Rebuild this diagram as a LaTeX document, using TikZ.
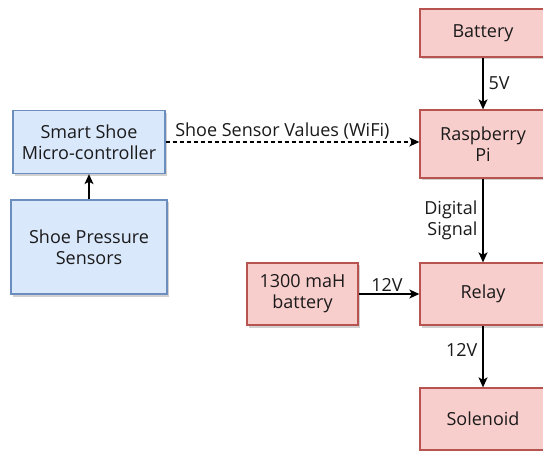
\documentclass[tikz,border=0pt]{standalone}
\usepackage{fontspec}
\setmainfont{Open Sans}
\usetikzlibrary{arrows.meta,shadows}
\definecolor{bluefill}{HTML}{DAE8FC}
\definecolor{bluedraw}{HTML}{6C8EBF}
\definecolor{redfill}{HTML}{F8CECC}
\definecolor{reddraw}{HTML}{B85450}
\definecolor{txt}{HTML}{1A1A1A}
\tikzset{
  box/.style={draw, line width=1.3bp, align=center, inner sep=2bp, text=txt,
    drop shadow={shadow xshift=2bp, shadow yshift=-2.5bp, opacity=0.18, fill=black}},
  bluebox/.style={box, fill=bluefill, draw=bluedraw},
  redbox/.style={box, fill=redfill, draw=reddraw},
  arr/.style={line width=1.3bp, -{Stealth[length=10bp, width=9bp, inset=2.5bp]}},
  lbl/.style={text=txt, align=right, inner sep=4bp}
}
\begin{document}
\begin{tikzpicture}[x=1bp, y=-1bp, font=\fontsize{18bp}{21bp}\selectfont]
\useasboundingbox[fill=white] (0,0) rectangle (543,451);
% red column
\node[redbox, minimum width=126bp, minimum height=48bp] (battery) at (483,33) {Battery};
\node[redbox, minimum width=126bp, minimum height=68bp] (rpi) at (483,144) {Raspberry\\Pi};
\node[redbox, minimum width=126bp, minimum height=62bp] (relay) at (483,294) {Relay};
\node[redbox, minimum width=126bp, minimum height=62bp] (solenoid) at (483,419) {Solenoid};
\node[redbox, minimum width=111bp, minimum height=62bp] (bat13) at (302.5,294) {1300 maH\\battery};
% blue column
\node[bluebox, minimum width=152bp, minimum height=63bp] (smart) at (89,142) {Smart Shoe\\Micro-controller};
\node[bluebox, minimum width=156bp, minimum height=94bp] (pressure) at (89,247) {Shoe Pressure\\Sensors};
% connectors
\draw[arr] (battery) -- node[lbl, right, inner sep=5bp] (l5v) {5V} (rpi);
\draw[arr] (rpi) -- node[lbl, left, inner sep=5bp] (ldig) {Digital\\Signal} (relay);
\draw[arr] (relay) -- node[lbl, left, pos=0.4, inner sep=5bp] (l12b) {12V} (solenoid);
\draw[arr] (bat13) -- node[lbl, above, inner sep=2bp, xshift=-2bp] (l12a) {12V} (relay);
\draw[arr] (pressure) -- (smart);
\draw[arr, dashed, dash pattern=on 4bp off 3bp] (smart.east) -- node[lbl, above, pos=0.46, inner sep=1.5bp] (lwifi) {Shoe Sensor Values (WiFi)} (rpi.west |- smart.east);
\end{tikzpicture}
\end{document}
